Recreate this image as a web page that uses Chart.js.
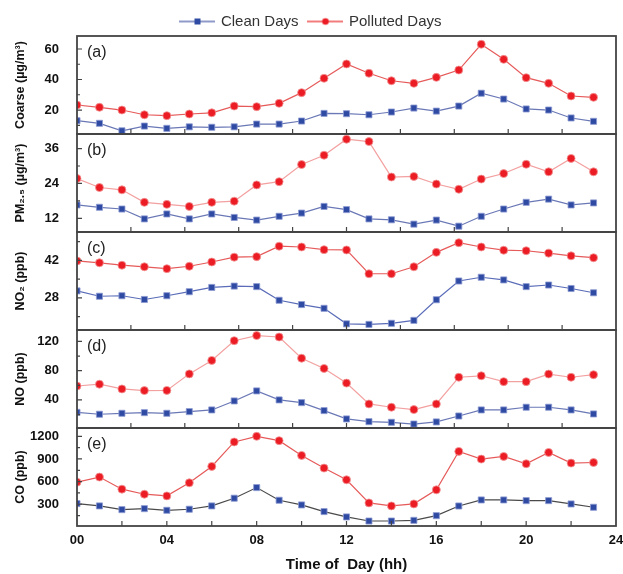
<!DOCTYPE html>
<html>
<head>
<meta charset="utf-8">
<script src="https://cdn.jsdelivr.net/npm/chart.js@4.4.1/dist/chart.umd.min.js"></script>
<style>
  html, body { margin: 0; padding: 0; background: #fff; }
  #wrap { position: relative; width: 623px; height: 574px; }
</style>
</head>
<body>
<div id="wrap"><canvas id="chart"></canvas></div>
<script>
// hour of day
const hours = [0, 1, 2, 3, 4, 5, 6, 7, 8, 9, 10, 11, 12, 13, 14, 15, 16, 17, 18, 19, 20, 21, 22, 23];
const xTickLabels = ['00', '04', '08', '12', '16', '20', '24'];

// (a) coarse particles, ug/m3
const coarseClean    = [13.0, 11.3, 6.4, 9.5, 8.0, 9.0, 8.7, 9.0, 10.8, 10.8, 12.8, 17.8, 17.6, 16.9, 18.7, 21.3, 19.3, 22.6, 31.0, 27.2, 20.7, 20.0, 14.8, 12.6];
const coarsePolluted = [23.3, 21.8, 20.0, 16.9, 16.3, 17.4, 18.2, 22.6, 22.2, 24.4, 31.4, 40.8, 50.2, 44.1, 39.2, 37.5, 41.4, 46.2, 63.1, 53.2, 41.2, 37.5, 29.2, 28.3];
const coarseTicks    = [20, 40, 60];

// (b) PM2.5, ug/m3
const pm25Clean    = [16.6, 15.8, 15.2, 11.8, 13.5, 11.8, 13.5, 12.3, 11.4, 12.7, 13.8, 16.1, 15.0, 11.8, 11.5, 10.0, 11.4, 9.3, 12.7, 15.2, 17.5, 18.6, 16.6, 17.3];
const pm25Polluted = [25.7, 22.6, 21.8, 17.5, 16.8, 16.1, 17.5, 17.9, 23.5, 24.6, 30.5, 33.7, 39.2, 38.4, 26.2, 26.4, 23.8, 22.0, 25.5, 27.4, 30.6, 28.0, 32.6, 28.0];
const pm25Ticks    = [12, 24, 36];

// (c) NO2, ppb
const no2Clean    = [30.6, 28.6, 28.8, 27.4, 28.8, 30.3, 31.9, 32.4, 32.2, 27.1, 25.5, 24.1, 18.3, 18.1, 18.5, 19.6, 27.3, 34.3, 35.7, 34.7, 32.2, 32.8, 31.5, 29.9];
const no2Polluted = [41.8, 41.1, 40.2, 39.6, 38.9, 39.8, 41.4, 43.2, 43.4, 47.3, 47.0, 46.0, 45.9, 37.0, 37.0, 39.6, 45.0, 48.6, 47.0, 45.8, 45.6, 44.7, 43.7, 43.0];
const no2Ticks    = [28, 42];

// (d) NO, ppb
const noClean    = [23, 20.4, 21.7, 22.6, 21.7, 24, 26.3, 38.6, 52.3, 40, 36.3, 25.4, 14, 10.3, 9.4, 7, 9.9, 18, 26.3, 26.3, 30, 30, 26.3, 20.8];
const noPolluted = [59, 61.5, 55, 52.8, 53, 75.6, 94, 121, 128, 126, 97, 83, 63, 34.5, 30, 26.8, 34.5, 71, 73, 65, 65, 75.3, 71, 74.5];
const noTicks    = [40, 80, 120];

// (e) CO, ppb
const coClean    = [309, 278, 229, 242, 220, 234, 278, 380, 521, 353, 291, 203, 132, 78, 78, 87, 149, 277, 357, 357, 348, 348, 304, 260];
const coPolluted = [593, 660, 500, 433, 411, 584, 801, 1125, 1200, 1142, 947, 779, 624, 318, 278, 305, 491, 1000, 898, 933, 836, 986, 845, 853];
const coTicks    = [300, 600, 900, 1200];

const FONT = '"Liberation Sans", Arial, Helvetica, sans-serif';

const panels = [
  { id: 'yA', tag: '(a)', title: 'Coarse (µg/m³)', clean: coarseClean, polluted: coarsePolluted, ticks: coarseTicks, min: 4.3, max: 68.5, cleanLine: '#6a78b6', pollLine: '#e65a5a', xStep: 2.4 },
  { id: 'yB', tag: '(b)', title: 'PM₂.₅ (µg/m³)', clean: pm25Clean, polluted: pm25Polluted, ticks: pm25Ticks, min: 7.3, max: 41, cleanLine: '#6a78b6', pollLine: '#f3a0a0', xStep: 2.4 },
  { id: 'yC', tag: '(c)', title: 'NO₂ (ppb)', clean: no2Clean, polluted: no2Polluted, ticks: no2Ticks, min: 16, max: 52.6, cleanLine: '#5a6cb8', pollLine: '#e65a5a', xStep: 2.4 },
  { id: 'yD', tag: '(d)', title: 'NO (ppb)', clean: noClean, polluted: noPolluted, ticks: noTicks, min: 1.6, max: 135.6, cleanLine: '#6a78b6', pollLine: '#f3a0a0', xStep: 2.4 },
  { id: 'yE', tag: '(e)', title: 'CO (ppb)', clean: coClean, polluted: coPolluted, ticks: coTicks, min: 12, max: 1310, cleanLine: '#4a4a4a', pollLine: '#e65a5a', xStep: 2 }
];

const datasets = [];
const scales = {
  x: {
    type: 'linear',
    min: 0,
    max: 24,
    grid: { display: false, drawTicks: false },
    border: { display: false },
    ticks: {
      stepSize: 4,
      padding: 7,
      color: '#111',
      font: { family: FONT, size: 13, weight: 'bold' },
      callback: (v, i) => xTickLabels[i]
    },
    title: {
      display: true,
      text: 'Time of  Day (hh)',
      color: '#111',
      font: { family: FONT, size: 15, weight: 'bold' },
      padding: { top: 0, bottom: 0 }
    },
    afterFit: s => {
      s.height = 48;
      s.paddingRight = 7; // let the "24" label hang over the frame edge
    }
  }
};

panels.forEach((p, i) => {
  datasets.push({
    label: 'Clean Days',
    data: p.clean,
    yAxisID: p.id,
    borderColor: p.cleanLine,
    borderWidth: 1.2,
    pointStyle: 'rect',
    pointRadius: 4.3,
    pointBackgroundColor: '#2f4aa3',
    pointBorderColor: '#8d9bd2',
    pointBorderWidth: 0.8,
    clip: { left: 0, right: 0, top: 8, bottom: 8 }
  });
  datasets.push({
    label: 'Polluted Days',
    data: p.polluted,
    yAxisID: p.id,
    borderColor: p.pollLine,
    borderWidth: 1.2,
    pointStyle: 'circle',
    pointRadius: 4,
    pointBackgroundColor: '#ec1c24',
    pointBorderColor: '#f29a9a',
    pointBorderWidth: 0.8,
    clip: { left: 0, right: 0, top: 8, bottom: 8 }
  });
  scales[p.id] = {
    type: 'linear',
    position: 'left',
    stack: 'panels',
    stackWeight: 1,
    weight: panels.length - i,
    min: p.min,
    max: p.max,
    grid: { display: false, drawTicks: false },
    border: { display: false },
    ticks: {
      padding: 18,
      color: '#111',
      font: { family: FONT, size: 13, weight: 'bold' },
      callback: v => String(v)
    },
    afterBuildTicks: s => { s.ticks = p.ticks.map(v => ({ value: v })); },
    title: {
      display: true,
      text: p.title,
      color: '#111',
      font: { family: FONT, size: 12.5, weight: 'bold' },
      padding: { top: 13, bottom: 0 }
    },
    afterFit: s => { s.width = 77; }
  };
});

function legendIcon(fill, line, shape) {
  const c = document.createElement('canvas');
  c.width = 36;
  c.height = 10;
  const g = c.getContext('2d');
  g.strokeStyle = line;
  g.lineWidth = 1.3;
  g.beginPath();
  g.moveTo(0, 5);
  g.lineTo(36, 5);
  g.stroke();
  g.fillStyle = fill;
  if (shape === 'rect') {
    g.fillRect(15, 2, 6, 6);
  } else {
    g.beginPath();
    g.arc(18, 5, 3.3, 0, Math.PI * 2);
    g.fill();
  }
  return c;
}

const cleanIcon = legendIcon('#2f4aa3', '#6a78b6', 'rect');
const pollutedIcon = legendIcon('#ec1c24', '#ee5050', 'circle');

// frames, inward tick marks and panel letters
const panelDecor = {
  id: 'panelDecor',
  afterInit(chart) {
    const fit = chart.legend.fit;
    chart.legend.fit = function () {
      fit.call(this);
      this.height = 33;
    };
  },
  afterDatasetsDraw(chart) {
    const ctx = chart.ctx;
    const area = chart.chartArea;
    const xs = chart.scales.x;
    ctx.save();
    ctx.strokeStyle = '#444';
    panels.forEach(p => {
      const ys = chart.scales[p.id];
      ctx.lineWidth = 1.2;
      ctx.beginPath();
      p.ticks.forEach(v => {
        const y = ys.getPixelForValue(v);
        ctx.moveTo(area.left, y);
        ctx.lineTo(area.left + 5, y);
      });
      const half = (p.ticks[1] - p.ticks[0]) / 2;
      const minor = p.ticks.map(v => v - half).concat([p.ticks[p.ticks.length - 1] + half]);
      minor.filter(v => v > p.min && v < p.max).forEach(v => {
        const y = ys.getPixelForValue(v);
        ctx.moveTo(area.left, y);
        ctx.lineTo(area.left + 3, y);
      });
      for (let v = p.xStep; v < 23.99; v += p.xStep) {
        const x = xs.getPixelForValue(v);
        ctx.moveTo(x, ys.bottom);
        ctx.lineTo(x, ys.bottom - 5);
      }
      ctx.stroke();
      ctx.lineWidth = 1.8;
      ctx.strokeRect(area.left, ys.top, area.right - area.left, ys.bottom - ys.top);
      ctx.fillStyle = '#222';
      ctx.font = '16px ' + FONT;
      ctx.textBaseline = 'middle';
      ctx.textAlign = 'left';
      ctx.fillText(p.tag, area.left + 10, ys.top + 17);
    });
    ctx.restore();
  }
};

new Chart(document.getElementById('chart'), {
  type: 'line',
  data: { labels: hours, datasets: datasets },
  options: {
    responsive: true,
    maintainAspectRatio: false,
    animation: false,
    layout: { padding: { left: 0, right: 0, top: 3, bottom: 0 } },
    scales: scales,
    plugins: {
      tooltip: { enabled: false },
      legend: {
        position: 'top',
        labels: {
          usePointStyle: true,
          pointStyleWidth: 32,
          padding: 11,
          color: '#333',
          font: { family: FONT, size: 15 },
          generateLabels: () => [
            { text: 'Clean Days', pointStyle: cleanIcon, fillStyle: '#2f4aa3', strokeStyle: 'rgba(0,0,0,0)', lineWidth: 0, fontColor: '#333', hidden: false, datasetIndex: 0 },
            { text: 'Polluted Days', pointStyle: pollutedIcon, fillStyle: '#ec1c24', strokeStyle: 'rgba(0,0,0,0)', lineWidth: 0, fontColor: '#333', hidden: false, datasetIndex: 1 }
          ]
        }
      }
    }
  },
  plugins: [panelDecor]
});
</script>
</body>
</html>
